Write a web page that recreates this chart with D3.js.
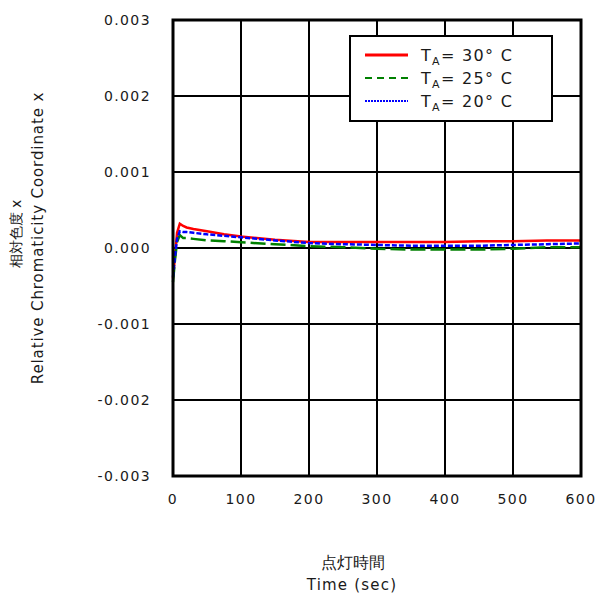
<!DOCTYPE html>
<html>
<head>
<meta charset="utf-8">
<script src="https://cdn.jsdelivr.net/npm/d3@7"></script>
<style>
  body { margin: 0; background: #fff; }
  text { font-family: "DejaVu Sans", Verdana, sans-serif; fill: #1a1a1a; }
</style>
</head>
<body>
<svg id="chart" width="600" height="594"></svg>
<script>
// time in seconds
const times = [0, 3, 6, 10, 15, 20, 30, 50, 75, 100, 150, 200, 250, 300, 350, 400, 450, 500, 550, 600];
// relative chromaticity x per ambient temperature
const ta30 = [-0.00040, -0.00010, 0.00020, 0.00032, 0.00029, 0.00027, 0.00025, 0.00022, 0.00018, 0.00015,
              0.00011, 0.00008, 0.00008, 0.00008, 0.00008, 0.00008, 0.00009, 0.00009, 0.00010, 0.00010];
const ta25 = [-0.00045, -0.00015, 0.00008, 0.00017, 0.00013, 0.00013, 0.00012, 0.00010, 0.00009, 0.000075,
              0.00005, 0.000025, 0.00001, -0.00001, -0.00002, -0.00002, -0.00002, -0.00001, 0.00001, 0.00001];
const ta20 = [-0.00038, -0.00010, 0.00012, 0.00022, 0.00021, 0.00021, 0.00020, 0.00018, 0.00016, 0.00014,
              0.00010, 0.000065, 0.00005, 0.00004, 0.00003, 0.00003, 0.00003, 0.00004, 0.00005, 0.00006];
const seriesLabels = ["30", "25", "20"];
const xTicks = [0, 100, 200, 300, 400, 500, 600];
const yTicks = [-0.003, -0.002, -0.001, 0, 0.001, 0.002, 0.003];

const margin = {top: 20, right: 19, bottom: 118, left: 173},
    width = 600 - margin.left - margin.right,
    height = 594 - margin.top - margin.bottom;

const svg = d3.select("#chart");
const g = svg.append("g").attr("transform", "translate(" + margin.left + "," + margin.top + ")");

const x = d3.scaleLinear().domain([0, 600]).range([0, width]);
const y = d3.scaleLinear().domain([-0.003, 0.003]).range([height, 0]);

// grid
g.selectAll(".vgrid")
    .data(xTicks.slice(1, -1))
    .enter().append("line")
    .attr("x1", d => x(d)).attr("x2", d => x(d))
    .attr("y1", 0).attr("y2", height)
    .attr("stroke", "#000").attr("stroke-width", 2);

g.selectAll(".hgrid")
    .data(yTicks.slice(1, -1))
    .enter().append("line")
    .attr("x1", 0).attr("x2", width)
    .attr("y1", d => y(d)).attr("y2", d => y(d))
    .attr("stroke", "#000").attr("stroke-width", 2);

// tick labels
g.selectAll(".ylab")
    .data(yTicks)
    .enter().append("text")
    .attr("x", -22)
    .attr("y", d => y(d))
    .attr("dy", "0.35em")
    .attr("text-anchor", "end")
    .style("font-size", "14px")
    .style("letter-spacing", "1.4px")
    .text(d => d3.format(".3f")(d).replace("−", "-"));

g.selectAll(".xlab")
    .data(xTicks)
    .enter().append("text")
    .attr("x", d => x(d))
    .attr("y", height + 23)
    .attr("dy", "0.35em")
    .attr("text-anchor", "middle")
    .style("font-size", "14px")
    .style("letter-spacing", "1.4px")
    .text(d => d);

// series
const line = d3.line()
    .x((d, i) => x(times[i]))
    .y(d => y(d));

const series = [
    {values: ta30, color: "#ff0000", dash: null, lgDash: null, lgW: 3},
    {values: ta25, color: "#008000", dash: "15,5", lgDash: "7,5", lgW: 2},
    {values: ta20, color: "#0000ff", dash: "5,2", lgDash: "2,1", lgW: 2}
];

g.selectAll(".series")
    .data(series)
    .enter().append("path")
    .attr("d", d => line(d.values))
    .attr("fill", "none")
    .attr("stroke", d => d.color)
    .attr("stroke-width", 2.5)
    .attr("stroke-dasharray", d => d.dash);

// plot border
g.append("rect")
    .attr("width", width).attr("height", height)
    .attr("fill", "none")
    .attr("stroke", "#000").attr("stroke-width", 3);

// legend
const legend = svg.append("g").attr("transform", "translate(350,36)");
legend.append("rect")
    .attr("width", 202).attr("height", 85)
    .attr("fill", "#fff")
    .attr("stroke", "#000").attr("stroke-width", 2);

const lgItems = legend.selectAll(".lg")
    .data(series)
    .enter().append("g")
    .attr("transform", (d, i) => "translate(0," + (19 + i * 23) + ")");

lgItems.append("line")
    .attr("x1", 15).attr("x2", 58)
    .attr("stroke", d => d.color)
    .attr("stroke-width", d => d.lgW)
    .attr("stroke-dasharray", d => d.lgDash);

const lgText = lgItems.append("text")
    .attr("x", 71)
    .attr("dy", "0.35em")
    .style("font-size", "16px")
    .style("letter-spacing", "1.3px");
lgText.append("tspan").text("T");
lgText.append("tspan").attr("dy", 4).style("font-size", "11px").text("A");
lgText.append("tspan").attr("dy", -4).text((d, i) => "= " + seriesLabels[i] + "\u00B0 C");

// axis titles
svg.append("text")
    .attr("transform", "translate(21,234) rotate(-90)")
    .attr("text-anchor", "middle")
    .style("font-size", "14px")
    .text("相対色度 x");

svg.append("text")
    .attr("transform", "translate(43,238) rotate(-90)")
    .attr("text-anchor", "middle")
    .style("font-size", "15px")
    .style("letter-spacing", "0.9px")
    .text("Relative Chromaticity Coordinate x");

svg.append("text")
    .attr("x", 353).attr("y", 568)
    .attr("text-anchor", "middle")
    .style("font-size", "16px")
    .text("点灯時間");

svg.append("text")
    .attr("x", 352).attr("y", 590)
    .attr("text-anchor", "middle")
    .style("font-size", "15px")
    .style("letter-spacing", "1.2px")
    .text("Time (sec)");
</script>
</body>
</html>
